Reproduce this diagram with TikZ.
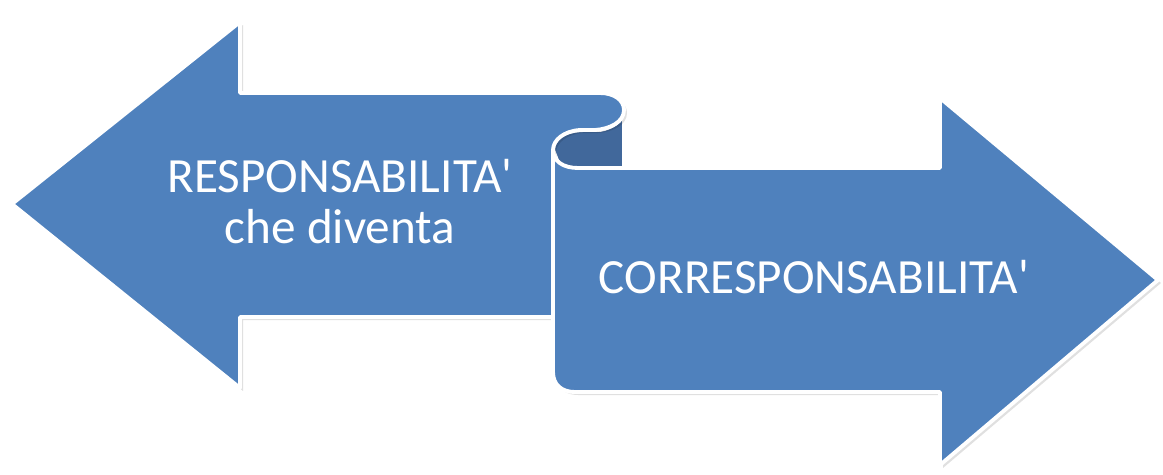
\documentclass[tikz,border=0pt]{standalone}
\usepackage{fontspec}
\newfontfamily\lblfont{Carlito}
\definecolor{arrowblue}{HTML}{4F81BD}
\definecolor{backblue}{HTML}{41689B}
\tikzset{
  shapefill/.style={fill=arrowblue, draw=white, line width=2.2pt, line join=round},
  backfill/.style={fill=backblue, draw=white, line width=2.2pt, line join=round},
  shade/.style={fill=black, opacity=0.12, draw=none},
  lbl/.style={text=white, font=\lblfont\fontsize{28}{30}\selectfont, align=center, inner sep=0pt}
}
\begin{document}
\begin{tikzpicture}[x=0.02cm, y=-0.02cm]
\useasboundingbox (0,0) rectangle (1163,474);
% back of the scroll
\path[backfill] (553,150) .. controls (553,138) and (565,130) .. (585,130) -- (600,130)
  .. controls (612,128) and (624,120) .. (624,110) -- (624,168) -- (560,168) -- cycle;
% left arrow shadow
\path[shade, shift={(3,3)}] (12,204) -- (240,22) -- (240,93) -- (600,93)
  .. controls (614,93) and (624,100) .. (624,110)
  .. controls (624,122) and (610,129) .. (595,130) -- (580,130)
  .. controls (564,131) and (553,140) .. (553,150) -- (553,317) -- (240,317) -- (240,388) -- cycle;
% left arrow
\path[shapefill] (12,204) -- (240,22) -- (240,93) -- (600,93)
  .. controls (614,93) and (624,100) .. (624,110)
  .. controls (624,122) and (610,129) .. (595,130) -- (580,130)
  .. controls (564,131) and (553,140) .. (553,150) -- (553,317) -- (240,317) -- (240,388) -- cycle;
% right arrow shadow
\path[shade, shift={(3,3)}] (553,150) .. controls (553,161) and (563,168) .. (578,168) -- (940,168) -- (940,98)
  -- (1158,280) -- (940,465) -- (940,392) -- (575,392)
  .. controls (562,392) and (553,385) .. (553,372) -- cycle;
% right arrow
\path[shapefill] (553,150) .. controls (553,161) and (563,168) .. (578,168) -- (940,168) -- (940,98)
  -- (1158,280) -- (940,465) -- (940,392) -- (575,392)
  .. controls (562,392) and (553,385) .. (553,372) -- cycle;
% labels
\node[lbl, anchor=base] (l1) at (340,192) {RESPONSABILITA'};
\node[lbl, anchor=base] (l2) at (340,243) {che diventa};
\node[lbl, anchor=base] (r1) at (814,293) {CORRESPONSABILITA'};
\end{tikzpicture}
\end{document}
